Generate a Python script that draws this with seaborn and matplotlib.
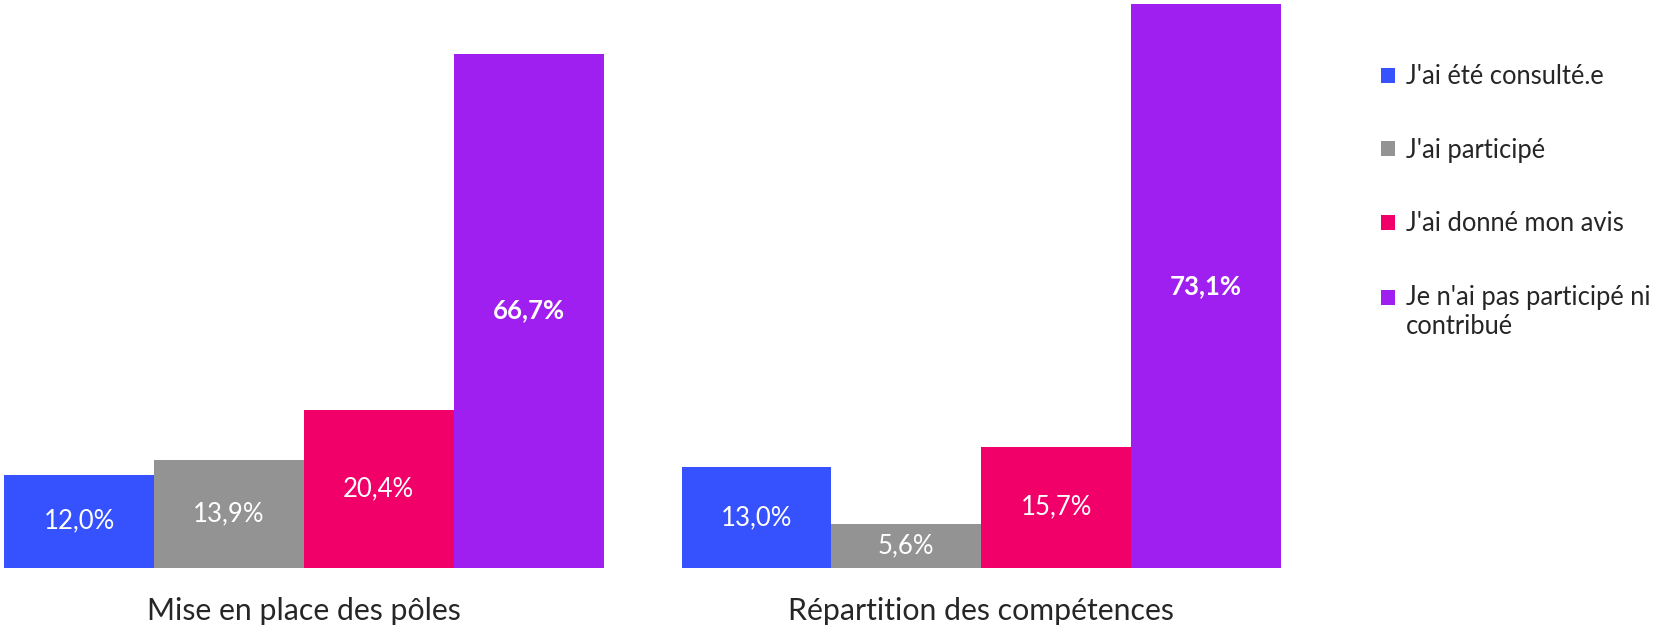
import matplotlib
matplotlib.use("Agg")
import matplotlib.pyplot as plt
from matplotlib.patches import Patch
import pandas as pd
import seaborn as sns

# data
groups = ["Mise en place des pôles", "Répartition des compétences"]
responses = ["J'ai été consulté.e", "J'ai participé", "J'ai donné mon avis",
             "Je n'ai pas participé ni contribué"]
legend_labels = ["J'ai été consulté.e", "J'ai participé", "J'ai donné mon avis",
                 "Je n'ai pas participé ni\ncontribué"]
values_poles = [12.0, 13.9, 20.4, 66.7]
values_competences = [13.0, 5.6, 15.7, 73.1]
colors = ["#3652FF", "#939393", "#F2006A", "#9E1FEF"]

sns.set_style("white")
plt.rcParams["font.family"] = ["Lato", "DejaVu Sans"]

rows = []
for g, vals in zip(groups, [values_poles, values_competences]):
    for r, v in zip(responses, vals):
        rows.append({"groupe": g, "reponse": r, "valeur": v})
df = pd.DataFrame(rows)

fig = plt.figure(figsize=(16.57, 6.29), dpi=100)
ax = fig.add_axes([2 / 1657, 1 - 567.5 / 629, 1279 / 1657, 563.3 / 629])

sns.barplot(data=df, x="groupe", y="valeur", hue="reponse", order=groups,
            hue_order=responses, palette=colors, width=0.885, gap=0,
            saturation=1, legend=False, ax=ax, linewidth=0)

for cont in ax.containers:
    vals = [b.get_height() for b in cont]
    labels = [f"{v:.1f}".replace(".", ",") + "%" for v in vals]
    ax.bar_label(cont, labels=labels, label_type="center",
                 color="white", fontsize=18.5)

# the biggest bar of each group gets a bold label
for gi in range(len(groups)):
    heights = [ax.containers[k][gi].get_height() for k in range(len(responses))]
    top = f"{max(heights):.1f}".replace(".", ",") + "%"
    for t in ax.texts:
        if t.get_text() == top:
            t.set_fontweight("bold")

ax.set_xlim(-0.4456, 1.4425)
ax.set_ylim(0, 73.1)
ax.set_xlabel("")
ax.set_ylabel("")
ax.set_yticks([])
ax.tick_params(axis="x", length=0, pad=21, labelsize=21.8)
sns.despine(ax=ax, left=True, bottom=True)

fs = 18.4
handles = [Patch(facecolor=c, edgecolor="none") for c in colors]
leg = fig.legend(handles, legend_labels, loc="upper left",
                 bbox_to_anchor=(1371 / 1657, 1 - 54 / 629), frameon=False,
                 fontsize=fs, handlelength=0.52, handleheight=0.52,
                 handletextpad=0.45, labelspacing=1.9, borderaxespad=0)
# keep the square of the wrapped entry level with its first line
p = leg.get_patches()[3]
p.set_y(p.get_y() + 0.6 * fs)

fig.savefig("out.png", dpi=100)
